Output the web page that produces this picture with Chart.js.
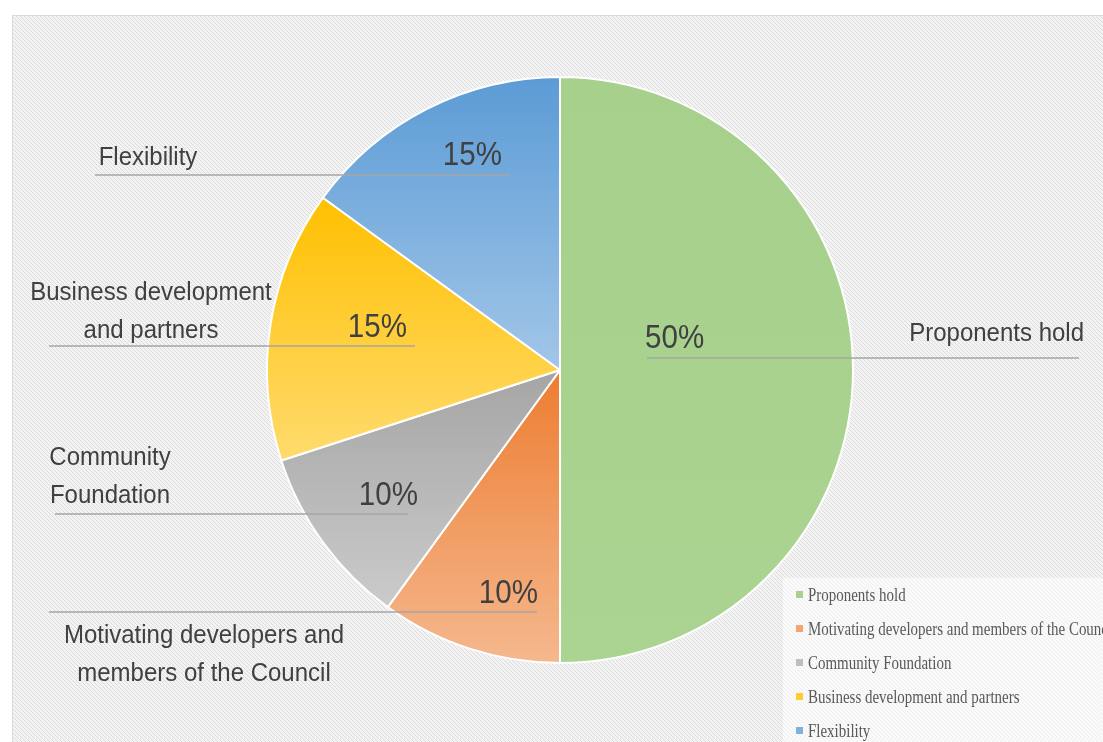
<!DOCTYPE html>
<html>
<head>
<meta charset="utf-8">
<script src="https://cdn.jsdelivr.net/npm/chart.js@4"></script>
<style>
  html, body { margin: 0; padding: 0; background: #fff; overflow: hidden; }
  #wrap { width: 1103px; height: 742px; }
</style>
</head>
<body>
<div id="wrap"><canvas id="pie" width="1103" height="742"></canvas></div>
<script>
// ── DATA ──────────────────────────────────────────────────────────
const categories = [
  'Proponents hold',
  'Motivating developers and members of the Council',
  'Community Foundation',
  'Business development and partners',
  'Flexibility'
];
const shares = [50, 10, 10, 15, 15];
// how the data labels wrap on the chart
const labelLines = [
  ['Proponents hold'],
  ['Motivating developers and', 'members of the Council'],
  ['Community', 'Foundation'],
  ['Business development', 'and partners'],
  ['Flexibility']
];
// slice gradient (top -> bottom) and legend swatch colours
const topColors    = ['#a7d08c', '#ed7d31', '#a5a5a5', '#ffc000', '#5b9bd5'];
const bottomColors = ['#abd391', '#f5b88e', '#cbcbcb', '#ffdb6e', '#a2c6e8'];
const swatchColors = ['#a9d18e', '#f4a46e', '#bfbfbf', '#ffcc33', '#7fb1df'];

// ── LABEL LAYOUT (leader line, % and category text per slice) ─────
const labelLayout = [
  { x1: 647, x2: 1079, y: 358, pctX: 645, pctY: 348, pctAlign: 'left',  textX: 1084, textY: 341, textAlign: 'right' },
  { x1: 49,  x2: 537,  y: 612, pctX: 538, pctY: 603, pctAlign: 'right', textX: 204,  textY: 643, textAlign: 'center' },
  { x1: 55,  x2: 408,  y: 514, pctX: 418, pctY: 505, pctAlign: 'right', textX: 110,  textY: 465, textAlign: 'center' },
  { x1: 49,  x2: 415,  y: 346, pctX: 407, pctY: 337, pctAlign: 'right', textX: 151,  textY: 300, textAlign: 'center' },
  { x1: 95,  x2: 510,  y: 175, pctX: 502, pctY: 165, pctAlign: 'right', textX: 148,  textY: 165, textAlign: 'center' }
];

function sliceGradient(ctx) {
  const chart = ctx.chart;
  const i = ctx.dataIndex;
  const area = chart.chartArea;
  if (!area || i === undefined) return topColors[i] || '#ccc';
  const cx = (area.left + area.right) / 2, cy = (area.top + area.bottom) / 2;
  const r = Math.min(area.width, area.height) / 2;
  const total = shares.reduce((a, b) => a + b, 0);
  let a0 = -Math.PI / 2;
  for (let k = 0; k < i; k++) a0 += shares[k] / total * Math.PI * 2;
  const a1 = a0 + shares[i] / total * Math.PI * 2;
  let ys = [cy, cy + r * Math.sin(a0), cy + r * Math.sin(a1)];
  const has = a => (a >= a0 && a <= a1) || (a + 2 * Math.PI >= a0 && a + 2 * Math.PI <= a1);
  if (has(Math.PI / 2)) ys.push(cy + r);
  if (has(-Math.PI / 2)) ys.push(cy - r);
  const g = chart.ctx.createLinearGradient(0, Math.min(...ys), 0, Math.max(...ys));
  g.addColorStop(0, topColors[i]);
  g.addColorStop(1, bottomColors[i]);
  return g;
}

// hatched frame behind the chart
const backdrop = {
  id: 'backdrop',
  beforeDraw(chart) {
    const { ctx, width, height } = chart;
    const tile = document.createElement('canvas');
    tile.width = 4; tile.height = 4;
    const t = tile.getContext('2d');
    t.fillStyle = '#f3f3f3';
    t.fillRect(0, 0, 4, 4);
    t.fillStyle = '#dcdcdc';
    for (let k = 0; k < 4; k++) t.fillRect(k, k, 1, 1);
    ctx.save();
    ctx.fillStyle = '#fff';
    ctx.fillRect(0, 0, width, height);
    ctx.fillStyle = ctx.createPattern(tile, 'repeat');
    ctx.fillRect(12, 15, width - 12, height - 15);
    ctx.strokeStyle = '#d9d9d9';
    ctx.lineWidth = 1;
    ctx.strokeRect(12.5, 15.5, width, height);
    ctx.restore();
  }
};

// text drawn slightly taller than wide, like the original export
function tallText(ctx, str, x, y, sx, sy) {
  ctx.save();
  ctx.translate(x, y);
  ctx.scale(sx, sy);
  ctx.fillText(str, 0, 0);
  ctx.restore();
}

// leader lines, percentages and category names
const dataLabels = {
  id: 'dataLabels',
  afterDatasetsDraw(chart) {
    const { ctx } = chart;
    const total = shares.reduce((a, b) => a + b, 0);
    ctx.save();
    labelLayout.forEach((l, i) => {
      ctx.strokeStyle = '#a6a6a6';
      ctx.lineWidth = 1.5;
      ctx.beginPath();
      ctx.moveTo(l.x1, l.y);
      ctx.lineTo(l.x2, l.y);
      ctx.stroke();

      ctx.fillStyle = '#404040';
      ctx.font = '29px "Liberation Sans", Arial, sans-serif';
      ctx.textAlign = l.pctAlign;
      ctx.textBaseline = 'alphabetic';
      tallText(ctx, Math.round(shares[i] / total * 100) + '%', l.pctX, l.pctY, 1.02, 1.12);

      ctx.font = '24px "Liberation Sans", Arial, sans-serif';
      ctx.textAlign = l.textAlign;
      labelLines[i].forEach((line, j) => tallText(ctx, line, l.textX, l.textY + j * 38, 1.0, 1.1));
    });
    ctx.restore();
  }
};

// condensed serif legend in the lower right corner
const cornerLegend = {
  id: 'cornerLegend',
  afterDraw(chart) {
    const { ctx, width, height } = chart;
    ctx.save();
    ctx.fillStyle = 'rgba(255,255,255,0.55)';
    ctx.fillRect(783, 578, width - 783, height - 578);
    categories.forEach((name, i) => {
      const y = 601 + i * 34;
      ctx.fillStyle = swatchColors[i];
      ctx.fillRect(796, y - 10, 7, 7);
      ctx.fillStyle = '#595959';
      ctx.font = '17px "Liberation Serif", "DejaVu Serif", serif';
      ctx.textAlign = 'left';
      tallText(ctx, name, 808, y, 0.88, 1.05);
    });
    ctx.restore();
  }
};

new Chart(document.getElementById('pie'), {
  type: 'pie',
  data: {
    labels: categories,
    datasets: [{
      data: shares,
      backgroundColor: sliceGradient,
      borderColor: '#ffffff',
      borderWidth: 2,
      hoverBorderWidth: 2,
      hoverOffset: 0
    }]
  },
  options: {
    responsive: false,
    animation: false,
    devicePixelRatio: 1,
    layout: { padding: { left: 266, right: 249, top: 76, bottom: 78 } },
    plugins: {
      legend: { display: false },
      tooltip: { enabled: false }
    }
  },
  plugins: [backdrop, dataLabels, cornerLegend]
});
</script>
</body>
</html>
